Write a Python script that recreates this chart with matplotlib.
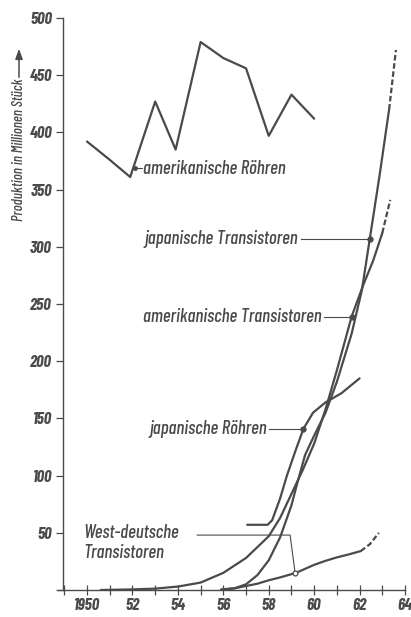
import matplotlib
matplotlib.use("Agg")
import matplotlib.pyplot as plt

plt.rcParams.update({"font.family": ["Barlow Condensed", "DejaVu Sans"],
                     "font.style": "italic"})

INK = "#4a4a4a"

# amerikanische Roehren
am_roe_x = [1950, 1951, 1951.9, 1953, 1953.9, 1955, 1956, 1957, 1958, 1959, 1960]
am_roe_y = [392, 376, 361, 427, 385, 479, 465, 456, 397, 433, 412]

# amerikanische Transistoren (durchgezogen + gestrichelt)
am_tr_x = [1950.6, 1952, 1953, 1954, 1955, 1956, 1957, 1958, 1958.5, 1959, 1959.5,
           1960, 1960.5, 1961, 1961.65, 1962.15, 1962.6, 1963.0]
am_tr_y = [0, 0.5, 1.2, 3, 6.5, 15, 28, 47, 63, 84, 105, 128, 158, 192, 239, 266, 288, 312]
am_tr_dx = [1963.0, 1963.18, 1963.35]
am_tr_dy = [312, 327, 341]

# japanische Transistoren
jp_tr_x = [1956, 1956.5, 1957, 1957.5, 1958, 1958.5, 1959, 1959.25, 1959.6, 1960,
           1960.5, 1961, 1961.65, 1962.1, 1962.45, 1962.9, 1963.3]
jp_tr_y = [0.3, 1.5, 5, 13, 26, 46, 74, 93, 118, 135, 155, 182, 224, 262, 307, 365, 420]
jp_tr_dx = [1963.3, 1963.45, 1963.6]
jp_tr_dy = [420, 446, 472]

# japanische Roehren
jp_roe_x = [1957.05, 1957.95, 1958.15, 1958.5, 1958.8, 1959.2, 1959.53, 1959.95,
            1960.5, 1961.2, 1962.0]
jp_roe_y = [57, 57, 61, 80, 100, 123, 141, 155, 164, 172, 185]

# westdeutsche Transistoren
wd_tr_x = [1955.9, 1956.5, 1957, 1957.5, 1958, 1958.5, 1959.2, 1959.6, 1960, 1960.5,
           1961, 1961.5, 1962.05]
wd_tr_y = [0.5, 1.5, 3.5, 5.5, 8.5, 11, 15, 18.5, 22, 25.5, 28.5, 31, 34]
wd_tr_dx = [1962.05, 1962.45, 1962.85]
wd_tr_dy = [34, 40, 50]

major_years = [1950, 1952, 1954, 1956, 1958, 1960, 1962, 1964]
major_labels = ["1950", "52", "54", "56", "58", "60", "62", "64"]
y_ticks = [0, 50, 100, 150, 200, 250, 300, 350, 400, 450, 500]
y_labels = ["", "50", "100", "150", "200", "250", "300", "350", "400", "450", "500"]

fig = plt.figure(figsize=(4.11, 6.17), dpi=100)
ax = fig.add_axes([63 / 411, 27 / 617, 342 / 411, 572 / 617])

lw = 1.6
for xs, ys in [(am_roe_x, am_roe_y), (am_tr_x, am_tr_y), (jp_tr_x, jp_tr_y),
               (jp_roe_x, jp_roe_y), (wd_tr_x, wd_tr_y)]:
    ax.plot(xs, ys, color=INK, lw=lw, solid_capstyle="round", solid_joinstyle="round")
for xs, ys in [(am_tr_dx, am_tr_dy), (jp_tr_dx, jp_tr_dy), (wd_tr_dx, wd_tr_dy)]:
    ax.plot(xs, ys, color=INK, lw=lw, ls=(0, (2.5, 1.2)))

fs = 13.5
txt = dict(color=INK, fontsize=fs, fontstyle="italic", fontweight="medium", va="center")
lead = dict(color=INK, lw=0.8)

# amerikanische Roehren
ax.plot([1952.1, 1952.4], [369, 369], **lead)
ax.plot([1952.1], [369], "o", color=INK, ms=2.5)
ax.text(1952.45, 368, "amerikanische Röhren", ha="left", **txt)

# japanische Transistoren
ax.plot([1959.4, 1962.44], [307, 307], **lead)
ax.plot([1962.44], [307], "o", color=INK, ms=3.5)
ax.text(1959.3, 307, "japanische Transistoren", ha="right", **txt)

# amerikanische Transistoren
ax.plot([1960.42, 1961.65], [239, 239], **lead)
ax.plot([1961.65], [239], "o", color=INK, ms=3.5)
ax.text(1960.33, 239, "amerikanische Transistoren", ha="right", **txt)

# japanische Roehren
ax.plot([1958.0, 1959.53], [141, 141], **lead)
ax.plot([1959.53], [141], "o", color=INK, ms=3.5)
ax.text(1957.92, 141, "japanische Röhren", ha="right", **txt)

# westdeutsche Transistoren
ax.plot([1954.85, 1958.94, 1959.16], [48, 48, 15], **lead)
ax.plot([1959.16], [15], "o", color=INK, ms=3.5, mfc="white", mew=0.9)
ax.text(1949.84, 49.5, "West-deutsche", ha="left", **txt)
ax.text(1949.84, 32, "Transistoren", ha="left", **txt)

ax.set_xlim(1948.94, 1964.0)
ax.set_ylim(0, 500)
ax.set_xticks(major_years)
ax.set_xticklabels(major_labels)
ax.set_xticks(range(1949, 1965), minor=True)
ax.set_yticks(y_ticks)
ax.set_yticklabels(y_labels)
ax.tick_params(axis="x", which="both", direction="inout", length=7, width=0.9,
               colors=INK, labelsize=12, pad=2)
ax.tick_params(axis="y", direction="out", length=5, width=0.9, colors=INK,
               labelsize=12, pad=3)
for lab in ax.get_xticklabels() + ax.get_yticklabels():
    lab.set_fontweight("bold")
    lab.set_fontstyle("italic")

for side in ["top", "right"]:
    ax.spines[side].set_visible(False)
for side in ["left", "bottom"]:
    ax.spines[side].set_color(INK)
    ax.spines[side].set_linewidth(1.0)
ax.spines["bottom"].set_bounds(1948.7, 1964.0)

# Achsenbeschriftung mit Pfeil
fig.text(19 / 411, 1 - 150 / 617, "Produktion in Millionen Stück", rotation=90,
         ha="center", va="center", color=INK, fontsize=10.5, fontstyle="italic",
         fontweight="medium")
ax.annotate("", xy=(19 / 411, 1 - 46 / 617), xytext=(19 / 411, 1 - 80 / 617),
            xycoords="figure fraction", textcoords="figure fraction",
            arrowprops=dict(arrowstyle="-|>,head_length=0.6,head_width=0.22",
                            color=INK, lw=1.1))

fig.savefig("out.png", dpi=100, facecolor="white")
